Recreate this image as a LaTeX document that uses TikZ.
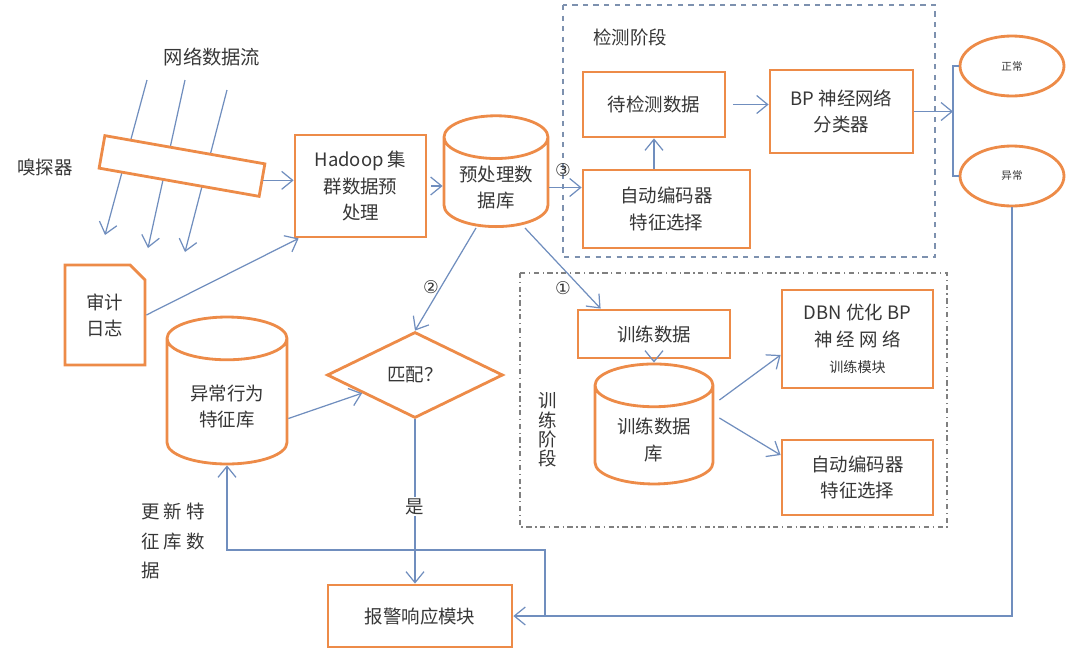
\documentclass[tikz,border=0pt]{standalone}
\usepackage{fontspec}
\setmainfont{Noto Sans CJK SC}
\newfontfamily\symfont{DejaVu Sans}
\usetikzlibrary{shapes.geometric,shapes.misc,arrows.meta}
\definecolor{boxorange}{RGB}{237,139,72}
\definecolor{flowblue}{RGB}{112,142,190}
\definecolor{framegray}{RGB}{125,145,175}
\definecolor{textgray}{RGB}{55,55,55}

\begin{document}
\begin{tikzpicture}[x=0.02cm,y=-0.02cm,
  box/.style={draw=boxorange,line width=1.6pt,fill=white,text=textgray,align=center,
    font=\fontsize{10.5}{15}\selectfont},
  db/.style={box,cylinder,shape border rotate=90,aspect=0.5},
  arr/.style={draw=flowblue,line width=0.7pt,-{Straight Barb[length=2.2mm,width=3.6mm]}},
  lbl/.style={text=textgray,align=center,font=\fontsize{10.5}{15}\selectfont},
  num/.style={text=textgray,inner sep=0pt,font=\symfont\fontsize{10}{11}\selectfont}]
\useasboundingbox (0,0) rectangle (1080,660);
\def\fr{0.8pt}
% stage frames
\draw[framegray,line width=\fr,dashed] (563,5) rectangle (935,257);
\draw[gray,line width=\fr,dash dot] (520,273) rectangle (947,527);
\node[lbl] (detlbl) at (630,37) {检测阶段};
\node[lbl,font=\fontsize{10.5}{11}\selectfont] (trnlbl) at (548,430) {训\\练\\阶\\段};
% network flow
\node[lbl,font=\fontsize{11}{15}\selectfont] (flowlbl) at (212,57) {网络数据流};
\coordinate (f1a) at (147,80);  \coordinate (f1b) at (105,235);
\coordinate (f2a) at (185,80);  \coordinate (f2b) at (148,248);
\coordinate (f3a) at (227,90);  \coordinate (f3b) at (185,252);
\draw[arr] (f1a) -- (f1b);
\draw[arr] (f2a) -- (f2b);
\draw[arr] (f3a) -- (f3b);
\node[box,rotate=-10,minimum width=3.25cm,minimum height=0.66cm] (snf) at (182,166) {};
\node[lbl] (snflbl) at (45,168) {嗅探器};
% preprocessing
\node[box,minimum width=2.62cm,minimum height=2.04cm] (hadoop) at (360.5,186) {Hadoop 集\\群数据预\\处理};
\node[db,minimum width=2.08cm,minimum height=2.1cm] (pre) at (496,187.5) {预处理数\\据库};
\node[box,chamfered rectangle,chamfered rectangle corners=north east,chamfered rectangle xsep=0.17cm,
  minimum width=1.6cm,minimum height=2cm] (audit) at (105,315) {审计\\日志};
% detection stage
\node[box,minimum width=2.84cm,minimum height=1.3cm] (wait) at (654,104.5) {待检测数据};
\node[box,minimum width=2.86cm,minimum height=1.66cm] (bp) at (841.5,111.5) {BP 神经网络\\分类器};
\node[box,minimum width=3.34cm,minimum height=1.56cm] (ae1) at (666.5,209) {自动编码器\\特征选择};
\node[box,ellipse,minimum width=2.08cm,minimum height=1.2cm,font=\fontsize{6}{7}\selectfont] (ok) at (1012,66) {正常};
\node[box,ellipse,minimum width=2.08cm,minimum height=1.2cm,font=\fontsize{6}{7}\selectfont] (ab) at (1012,176) {异常};
% matching
\node[db,minimum width=2.4cm,minimum height=2.94cm] (fdb) at (227,406.5) {异常行为\\特征库};
\node[box,diamond,aspect=2,minimum width=3.52cm,minimum height=1.72cm,inner sep=0pt] (match) at (415,375) {匹配？};
\node[box,minimum width=3.68cm,minimum height=1.24cm] (alarm) at (420,616) {报警响应模块};
\node[lbl,align=left,font=\fontsize{10.5}{17}\selectfont,anchor=west] (updlbl) at (135,541) {更 新 特\\征 库 数\\据};
% training stage
\node[box,minimum width=3.04cm,minimum height=0.96cm] (train) at (654,334) {训练数据};
\node[db,minimum width=2.36cm,minimum height=2.4cm] (tdb) at (654,440) {训练数据\\库};
\node[box,minimum width=3.02cm,minimum height=1.96cm] (dbn) at (857.5,339)
  {DBN 优化 BP\\神 经 网 络\\{\fontsize{8}{10}\selectfont 训练模块}};
\node[box,minimum width=3.02cm,minimum height=1.5cm] (ae2) at (857.5,477.5) {自动编码器\\特征选择};
% connectors
\draw[arr] (snf.east) -- (snf.east -| hadoop.west);
\draw[arr,shorten <=2pt] (hadoop.east) -- (hadoop.east -| pre.west);
\draw[arr] (audit.east) -- ([xshift=0.1cm]hadoop.south west);
\draw[arr] (pre.east) -- (pre.east -| ae1.west);
\node[num] (n3) at (563,170) {③};
\draw[arr] (ae1.north -| wait.south) -- (wait.south);
\draw[arr,shorten <=4pt] (wait.east) -- (wait.east -| bp.west);
\coordinate (br) at (953,111.5);
\draw[arr] (bp.east) -- (br);
\draw[draw=flowblue,line width=0.7pt] (ok.west) -| (br) |- (ab.west);
\draw[arr] ([xshift=-0.4cm]pre.south) -- (match.north);
\node[num] (n2) at (431,287) {②};
\draw[arr] ([xshift=0.58cm]pre.south) -- ([xshift=0.48cm]train.north west);
\node[num] (n1) at (563,288) {①};
\draw[arr] ([yshift=-0.24cm]fdb.east) -- (match);
\draw[arr] (match.south) -- (match.south |- alarm.north)
  node[lbl,fill=white,pos=0.53,inner sep=1pt] (yes) {是};
\draw[arr] (ab.south) |- (alarm.east);
\coordinate (jn) at (545,616);
\coordinate (upd) at (545,550);
\draw[arr] (jn) -- (upd) -| (fdb.south);
\draw[arr] (train.south) -- (tdb.north);
\draw[arr] ([shift={(0.1cm,0.8cm)}]tdb.east) -- ([yshift=-0.32cm]dbn.west);
\draw[arr] ([shift={(0.1cm,0.44cm)}]tdb.east) -- ([yshift=0.45cm]ae2.west);
\end{tikzpicture}
\end{document}
